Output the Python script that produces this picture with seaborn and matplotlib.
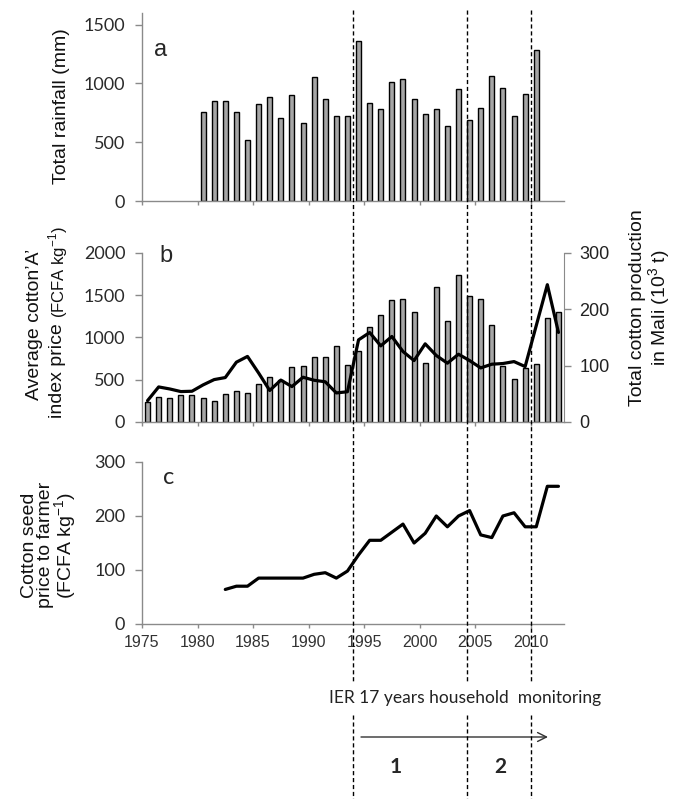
import numpy as np
import matplotlib
matplotlib.use("Agg")
from matplotlib import pyplot as plt
from matplotlib import transforms
from matplotlib.lines import Line2D
import seaborn as sns

# data
rain_years = np.arange(1980, 2011)
rainfall = [756, 852, 852, 756, 517, 829, 881, 705, 904, 668,
            1057, 864, 727, 727, 1358, 838, 784, 1012, 1040, 864,
            739, 781, 639, 952, 693, 793, 1063, 963, 725, 910, 1281]

b_years = np.arange(1975, 2013)
production = [35.6, 44.5, 42.1, 48.6, 47.4, 42.1, 37.4, 49.8, 54.5, 51.0,
              68.2, 79.4, 74.7, 97.8, 99.0, 115.6, 115.6, 134.6, 101.4, 125.7,
              168.4, 189.1, 215.8, 217.6, 195.7, 104.9, 239.5, 179.6, 261.5, 223.5,
              218.8, 171.9, 99.0, 76.5, 96.0, 103.8, 185.0, 195.0]
a_index_price = [253, 415, 391, 360, 364, 439, 502, 526, 708, 776,
                 580, 373, 496, 419, 530, 494, 476, 344, 358, 972,
                 1059, 901, 1012, 834, 727, 925, 787, 696, 802, 727,
                 640, 684, 692, 715, 656, 1140, 1625, 1060]

seed_years = np.arange(1982, 2013)
seed_price = [64, 70, 70, 85, 85, 85, 85, 85, 92, 95,
              85, 98, 128, 155, 155, 170, 185, 150, 168, 200,
              180, 200, 210, 165, 160, 200, 206, 180, 180, 255, 255]

period_marks = [1994.0, 2004.25, 2010.0]
year_ticks = list(range(1975, 2015, 5))

sns.set_style("white")
plt.rcParams["font.family"] = ["Liberation Sans", "DejaVu Sans"]
plt.rcParams["mathtext.fontset"] = "custom"
plt.rcParams["mathtext.rm"] = "Liberation Sans"

W, H = 687, 799
def fx(px):
    return px / W
def fy(py):
    return 1 - py / H

spine_col = "#8a8a8a"
bar_col = "#a6a6a6"
calibri_like = ["Lato", "DejaVu Sans"]

fig = plt.figure(figsize=(W / 100, H / 100), dpi=100)
ax_a = fig.add_axes([fx(142), fy(201), 422 / W, 188 / H])
ax_b = fig.add_axes([fx(142), fy(422), 422 / W, 169 / H])
ax_c = fig.add_axes([fx(142), fy(624), 422 / W, 162 / H])
ax_b2 = ax_b.twinx()


def style_axis(ax, yticks, ylim, show_x=False):
    ax.set_xlim(1975, 2013)
    ax.set_ylim(*ylim)
    ax.set_yticks(yticks)
    ax.set_xticks(year_ticks)
    for s in ["top", "right"]:
        ax.spines[s].set_visible(False)
    for s in ["left", "bottom"]:
        ax.spines[s].set_color(spine_col)
        ax.spines[s].set_linewidth(1)
    ax.tick_params(axis="y", direction="out", length=5, width=1, color=spine_col,
                   pad=7, left=True)
    ax.tick_params(axis="x", direction="out", length=3, width=1, color=spine_col,
                   bottom=True, labelbottom=show_x, labelsize=11.5,
                   labelcolor="#333333", pad=5)
    for lab in ax.get_yticklabels():
        lab.set_fontfamily(calibri_like)
        lab.set_fontsize(13)
        lab.set_color("#2a2a2a")
    ax.set_xlabel("")
    ax.set_ylabel("")


# panel a: rainfall
sns.barplot(x=rain_years + 0.5, y=rainfall, native_scale=True, width=0.45,
            color=bar_col, saturation=1, edgecolor="black", linewidth=1,
            errorbar=None, ax=ax_a)
style_axis(ax_a, [0, 500, 1000, 1500], (0, 1600))

# panel b: production bars (right) + A index price (left)
sns.barplot(x=b_years + 0.5, y=production, native_scale=True, width=0.45,
            color=bar_col, saturation=1, edgecolor="black", linewidth=1,
            errorbar=None, ax=ax_b2)
sns.lineplot(x=b_years + 0.5, y=a_index_price, color="black", linewidth=2.3,
             ax=ax_b, legend=False)
ax_b.set_zorder(ax_b2.get_zorder() + 1)
ax_b.patch.set_visible(False)
style_axis(ax_b, [0, 500, 1000, 1500, 2000], (0, 2000))
ax_b2.set_xlim(1975, 2013)
ax_b2.set_ylim(0, 300)
ax_b2.set_yticks([0, 100, 200, 300])
ax_b2.set_ylabel("")
for s in ["top", "left", "bottom"]:
    ax_b2.spines[s].set_visible(False)
ax_b2.spines["right"].set_color(spine_col)
ax_b2.tick_params(axis="y", direction="out", length=5, width=1, color=spine_col,
                  pad=6, labelsize=13, labelcolor="#222222", right=True)
ax_b2.tick_params(axis="x", bottom=False, labelbottom=False)

# panel c: seed cotton price
sns.lineplot(x=seed_years + 0.5, y=seed_price, color="black", linewidth=2.3,
             ax=ax_c, legend=False)
style_axis(ax_c, [0, 100, 200, 300], (0, 300), show_x=True)

# panel letters
fig.text(fx(161), fy(50), "a", fontsize=17, ha="center", va="center")
fig.text(fx(166), fy(256), "b", fontsize=17, ha="center", va="center")
fig.text(fx(169), fy(478), "c", fontsize=17, ha="center", va="center",
         family=calibri_like)

# y labels
lab_size = 14
lab_kw = dict(rotation=90, ha="center", va="center", fontsize=lab_size, color="#111111")
fig.text(fx(62), fy(106), "Total rainfall (mm)", **lab_kw)
fig.text(fx(35), fy(324), "Average cotton\u2019A\u2019", **lab_kw)
fig.text(fx(58), fy(418), "index price", rotation=90, ha="center", va="bottom",
         fontsize=lab_size, color="#111111")
fig.text(fx(58), fy(318), "(FCFA kg$^{-1}$)", rotation=90, ha="center", va="bottom",
         fontsize=12, color="#111111")
fig.text(fx(651), fy(308), "Total cotton production\nin Mali (10$^{3}$ t)",
         linespacing=1.05, **lab_kw)
fig.text(fx(50), fy(545), "Cotton seed\nprice to farmer\n(FCFA kg$^{-1}$)",
         linespacing=0.95, **lab_kw)

# period markers
trans = transforms.blended_transform_factory(ax_c.transData, fig.transFigure)
for xm in period_marks:
    for y0, y1 in [(10, 683), (715, 799)]:
        fig.add_artist(Line2D([xm, xm], [fy(y0), fy(y1)], transform=trans,
                              color="black", lw=1, ls=(0, (3, 2)), clip_on=False))

fig.text(fx(465), fy(698), "IER 17 years household  monitoring", ha="center",
         va="center", fontsize=12.5, family=calibri_like, color="#222222")
ax_c.annotate("", xy=(fx(548), fy(737)), xytext=(fx(361), fy(737)),
              xycoords="figure fraction", textcoords="figure fraction",
              arrowprops=dict(arrowstyle="->", lw=1, color="#333333",
                              shrinkA=0, shrinkB=0, mutation_scale=16))
fig.text(fx(396), fy(767), "1", ha="center", va="center", fontsize=15,
         fontweight="bold", family=calibri_like)
fig.text(fx(500), fy(767), "2", ha="center", va="center", fontsize=15,
         fontweight="bold", family=calibri_like)

fig.savefig("out.png", dpi=100)
